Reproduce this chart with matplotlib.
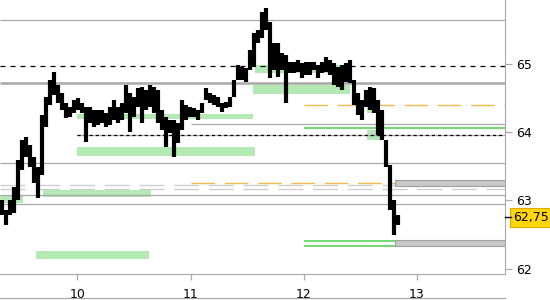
import numpy as np
import matplotlib
matplotlib.use('Agg')
import matplotlib.pyplot as plt
from matplotlib.lines import Line2D

plt.rcParams['lines.scale_dashes'] = False

# price bars (high / low), evenly spaced in time
highs = [63.00, 62.86, 63.00, 63.19, 63.59, 63.88, 63.92, 63.81, 63.63, 63.49,
         64.25, 64.51, 64.76, 64.88, 64.69, 64.57, 64.42, 64.36, 64.47, 64.50,
         64.42, 64.36, 64.36, 64.32, 64.32, 64.32, 64.28, 64.36, 64.47, 64.36,
         64.42, 64.69, 64.57, 64.51, 64.64, 64.66, 64.61, 64.69, 64.66, 64.61,
         64.32, 64.22, 64.17, 64.17, 64.13, 64.47, 64.39, 64.36, 64.35, 64.32,
         64.42, 64.64, 64.57, 64.54, 64.51, 64.42, 64.44, 64.51, 64.76, 64.98,
         64.95, 64.93, 65.20, 65.45, 65.49, 65.75, 65.81, 65.61, 65.30, 65.30,
         65.15, 65.12, 65.02, 65.02, 65.05, 65.01, 65.02, 65.02, 65.02, 64.98,
         65.02, 65.10, 65.05, 65.01, 64.95, 64.98, 65.01, 65.05, 64.76, 64.57,
         64.47, 64.61, 64.66, 64.64, 64.47, 64.32, 63.88, 63.51, 63.00, 62.78]
lows = [62.78, 62.64, 62.78, 62.81, 63.00, 63.44, 63.63, 63.49, 63.25, 63.03,
        63.37, 64.07, 64.39, 64.54, 64.42, 64.32, 64.20, 64.22, 64.28, 64.32,
        64.28, 63.85, 64.13, 64.07, 64.10, 64.13, 64.07, 64.10, 64.17, 64.13,
        64.17, 64.28, 64.00, 64.22, 64.36, 64.13, 64.32, 64.36, 64.28, 64.13,
        64.03, 63.78, 63.98, 63.63, 63.84, 64.03, 64.17, 64.22, 64.22, 64.17,
        64.28, 64.47, 64.42, 64.39, 64.36, 64.29, 64.35, 64.36, 64.51, 64.76,
        64.76, 64.73, 64.90, 64.95, 65.30, 65.37, 65.49, 64.79, 64.90, 64.80,
        64.90, 64.42, 64.86, 64.86, 64.88, 64.79, 64.83, 64.83, 64.90, 64.79,
        64.86, 64.88, 64.83, 64.69, 64.66, 64.61, 64.73, 64.71, 64.39, 64.25,
        64.17, 64.36, 64.32, 64.28, 63.95, 63.88, 63.49, 62.86, 62.49, 62.64]
t_start = 9.33
t_step = 0.0354
last_price = 62.75

# horizontal levels
gray_full = [65.64, 63.54, 63.08, 62.95]
gray_thick = 64.71
gray_from_11 = 64.12
dotted_from_10 = 63.95
dashed_black = 64.96
orange_levels = [64.39, 63.25]
orange_start = [12.0, 11.0]
lightgray_dashed = [63.22, 63.16]
green_levels = [64.05, 62.41, 62.33]
green_start = 12.0

# zones
green_t1 = [10.0, 10.0, 11.55, 11.57, 12.56, 12.56, 9.70, 9.316, 9.63]
green_t2 = [11.55, 11.57, 12.41, 12.39, 12.60, 12.70, 10.65, 9.52, 10.63]
green_lo = [64.19, 63.65, 64.55, 64.86, 64.28, 63.88, 63.05, 62.96, 62.14]
green_hi = [64.26, 63.78, 64.69, 64.98, 64.36, 64.03, 63.15, 63.08, 62.26]
gray_zone_t1 = 12.81
gray_zone_lo = [63.21, 62.33]
gray_zone_hi = [63.29, 62.42]

xmin, xmax = 9.316, 13.78
ymin, ymax = 61.92, 65.93

fig = plt.figure(figsize=(5.5, 3), dpi=100)
ax = fig.add_axes([0, 26 / 300, 505 / 550, 274 / 300])
ax.set_xlim(xmin, xmax)
ax.set_ylim(ymin, ymax)

lg = '#a8a8a8'
for y in gray_full:
    ax.hlines(y, xmin, xmax, color=lg, lw=0.9, zorder=2)
ax.hlines(gray_thick, xmin, xmax, color=lg, lw=1.8, zorder=2)
ax.hlines(gray_from_11, 11.0, xmax, color=lg, lw=0.9, zorder=2)
ax.hlines(dotted_from_10, 10.0, xmax, color=lg, lw=0.9, zorder=2)
ax.hlines(dotted_from_10, 10.0, xmax, color='black', lw=0.9,
          linestyles=(0, (2.2, 2.2)), zorder=2)
ax.hlines(dashed_black, xmin, xmax, color='black', lw=0.9,
          linestyles=(0, (3.6, 3.6)), zorder=2)
for y in lightgray_dashed:
    ax.hlines(y, xmin, xmax, color='#cfcfcf', lw=1.0,
              linestyles=(0, (18, 7)), zorder=2)
for y, s in zip(orange_levels, orange_start):
    ax.hlines(y, s, xmax, color='#f2b84b', lw=1.0,
              linestyles=(0, (17, 7)), zorder=2)
for y in green_levels:
    ax.hlines(y, green_start, xmax, color='#4ccf4c', lw=1.1, zorder=2)

for a, b, lo, hi in zip(green_t1, green_t2, green_lo, green_hi):
    ax.fill_between([a, b], lo, hi, color='#b4e9b4', lw=0, zorder=1)
for lo, hi in zip(gray_zone_lo, gray_zone_hi):
    ax.fill_between([gray_zone_t1, xmax], lo, hi, facecolor='#c8c8c8',
                    edgecolor='#a0a0a0', lw=0.8, zorder=2.5)

t = t_start + t_step * np.arange(len(highs))
ax.vlines(t, lows, highs, color='black', lw=3.0, zorder=3)

# axes styling
for s in ['top', 'left']:
    ax.spines[s].set_visible(False)
ax.spines['right'].set_color(lg)
ax.spines['bottom'].set_color(lg)
ax.yaxis.tick_right()
ax.set_yticks([62, 63, 64, 65])
ax.set_yticklabels(['62', '63', '64', '65'])
ax.set_xticks([10, 11, 12, 13])
ax.set_xticklabels(['10', '11', '12', '13'])
ax.tick_params(axis='y', colors=lg, labelcolor='black', length=5, width=0.9,
               labelsize=9, pad=3)
ax.tick_params(axis='x', colors=lg, labelcolor='black', length=4, width=0.9,
               labelsize=9, pad=6)
ax.text(1.0, 66, '  66', transform=ax.get_yaxis_transform(), va='center',
        ha='left', fontsize=9, clip_on=False)

# last price tag
ax.plot([1.0, 1.012], [last_price, last_price], color='black', lw=1,
        transform=ax.get_yaxis_transform(), clip_on=False, zorder=5)
ax.text(1.016, last_price, '62,75', transform=ax.get_yaxis_transform(),
        va='center', ha='left', fontsize=9, clip_on=False,
        bbox=dict(boxstyle='square,pad=0.25', facecolor='#ffd60a',
                  edgecolor='#e0a800', lw=0.8))

fig.add_artist(Line2D([0, 505 / 550], [2 / 300, 2 / 300], color=lg, lw=0.9))

fig.savefig('out.png', dpi=100, facecolor='white')
